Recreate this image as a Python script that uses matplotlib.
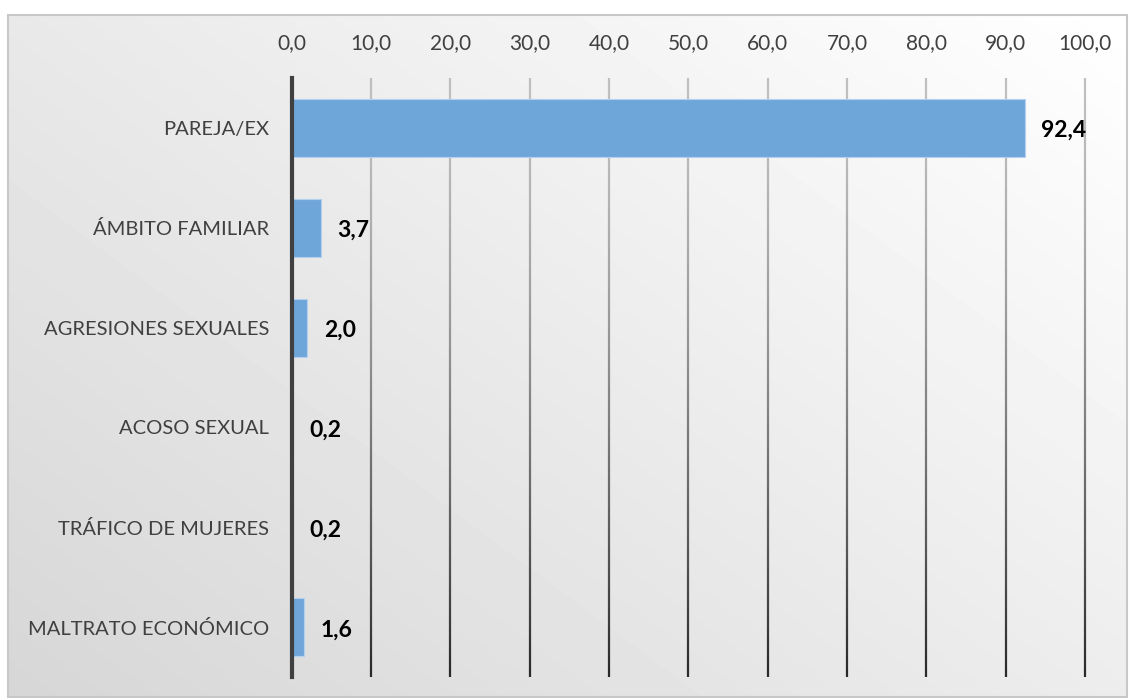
import numpy as np
import matplotlib.pyplot as plt
from matplotlib.collections import LineCollection
from matplotlib.patches import Rectangle

# Datos
categorias = ["PAREJA/EX", "ÁMBITO FAMILIAR", "AGRESIONES SEXUALES",
              "ACOSO SEXUAL", "TRÁFICO DE MUJERES", "MALTRATO ECONÓMICO"]
valores = [92.4, 3.7, 2.0, 0.2, 0.2, 1.6]
ticks_x = [0, 10, 20, 30, 40, 50, 60, 70, 80, 90, 100]

plt.rcParams['font.family'] = ['Lato', 'DejaVu Sans']

fig = plt.figure(figsize=(11.3, 7.0), dpi=100)

# Fondo con degradado
bg = fig.add_axes([0, 0, 1, 1], zorder=0)
bg.set_xlim(0, 1130)
bg.set_ylim(700, 0)
bg.axis("off")
xx, yy = np.meshgrid(np.linspace(0, 1, 200), np.linspace(0, 1, 200))
t = (1 - xx) * 0.55 + yy * 0.45
grad = 1.0 - 0.16 * t
bg.imshow(grad, cmap="gray", vmin=0, vmax=1, extent=[8, 1127, 697, 15],
          aspect="auto", interpolation="bilinear")
bg.add_patch(Rectangle((8, 15), 1119, 682, fill=False, edgecolor="#c8c8c8", lw=1.5))

ax = fig.add_axes([291.5 / 1130, 1 - 677 / 700, (1085 - 291.5) / 1130, (677 - 78) / 700], zorder=1)
ax.set_facecolor("none")

y = np.arange(len(categorias))
ax.barh(y, valores, height=0.58, color="#6fa6da", edgecolor="#b3d0ee", linewidth=0.8, zorder=3)

ax.set_xlim(0, 100)
ax.set_ylim(len(categorias) - 0.5, -0.5)

# Lineas de cuadricula con degradado (claras arriba, oscuras abajo)
segs, cols = [], []
n = 60
ys = np.linspace(-0.5, len(categorias) - 0.5, n + 1)
for xv in ticks_x[1:]:
    for i in range(n):
        segs.append([(xv, ys[i]), (xv, ys[i + 1])])
        f = i / n
        c = 0.75 - 0.6 * f ** 1.5
        cols.append((c, c, c))
ax.add_collection(LineCollection(segs, colors=cols, linewidths=1.6, zorder=1, clip_on=False))
ax.axvline(0, color="#404040", lw=3, zorder=4, clip_on=False)

ax.xaxis.tick_top()
ax.set_xticks(ticks_x)
ax.set_xticklabels([f"{v:.1f}".replace(".", ",") for v in ticks_x])
ax.set_yticks(y)
ax.set_yticklabels(categorias)
ax.tick_params(axis="x", length=0, pad=18, labelsize=15, labelcolor="#404040")
ax.tick_params(axis="y", length=0, pad=16, labelsize=14.5, labelcolor="#404040")
for s in ax.spines.values():
    s.set_visible(False)

for yi, v in zip(y, valores):
    ax.annotate(f"{v:.1f}".replace(".", ","), (v, yi), xytext=(12, -2),
                textcoords="offset points", ha="left", va="center",
                fontsize=16.5, fontweight="bold", color="black", zorder=5)

plt.savefig("out.png", dpi=100)
